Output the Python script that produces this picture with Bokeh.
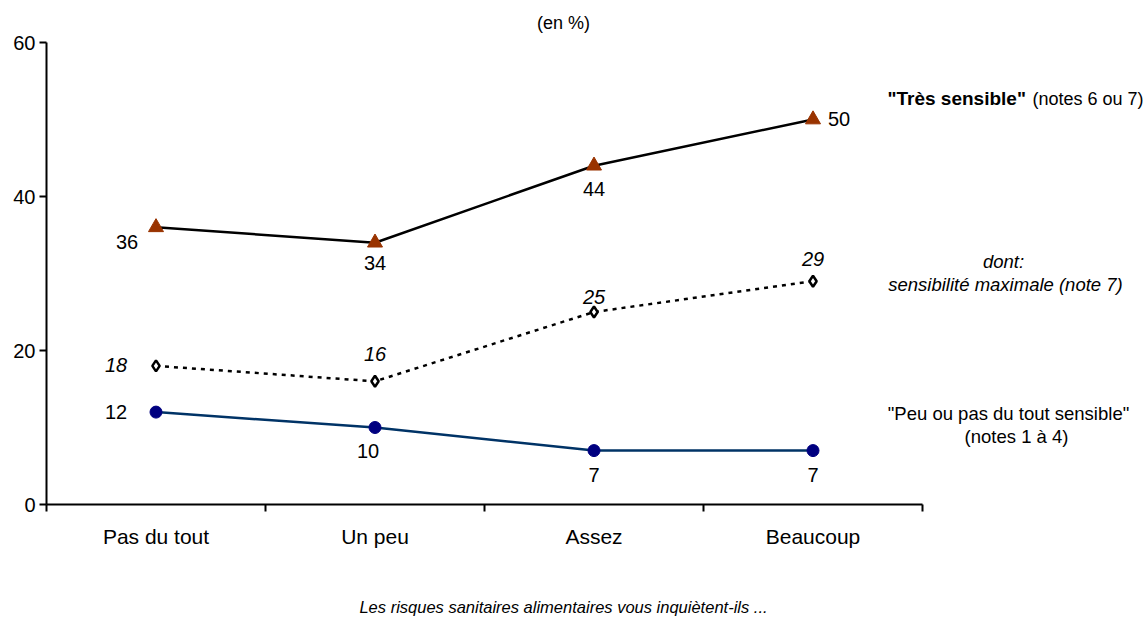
from bokeh.plotting import figure
from bokeh.layouts import column
from bokeh.models import FixedTicker, Label, ColumnDataSource
from bokeh.core.properties import value
from bokeh.embed import file_html
from bokeh.resources import INLINE

# Survey answers (x axis) and shares in percent
categories = ["Pas du tout", "Un peu", "Assez", "Beaucoup"]
tres_sensible = [36, 34, 44, 50]        # notes 6 ou 7
sensibilite_max = [18, 16, 25, 29]      # note 7
peu_sensible = [12, 10, 7, 7]           # notes 1 à 4
y_ticks = [0, 20, 40, 60]
Y_MAX = 60

FONT = "Liberation Sans"
xs = [i + 0.5 for i in range(len(categories))]
n = len(categories)

# page layout in pixels: the plotting area spans the whole canvas to the right
# and top, so that the side notes can sit inside it; the axes keep to the data
W, H = 1144, 590          # main chart; a 27 px strip below holds the question
FOOT = 27
LEFT, BOTTOM = 46, 86
AXIS_RIGHT, AXIS_TOP = 922, 42
x_end = n * (W - LEFT) / (AXIS_RIGHT - LEFT)
y_end = Y_MAX * (H - BOTTOM) / (H - BOTTOM - AXIS_TOP)

p = figure(width=W, height=H, output_backend="svg", toolbar_location=None,
           x_range=(0, x_end), y_range=(0, y_end),
           min_border_left=LEFT, min_border_right=0,
           min_border_top=0, min_border_bottom=BOTTOM)
p.title.visible = False
p.outline_line_color = None
p.xgrid.visible = False
p.ygrid.visible = False
p.background_fill_color = "white"
p.border_fill_color = "white"

# x axis: labels at category centres, tick marks at category boundaries
p.xaxis.bounds = (0, n)
p.xaxis.ticker = FixedTicker(ticks=xs, minor_ticks=list(range(n + 1)))
p.xaxis.major_label_overrides = {x: c for x, c in zip(xs, categories)}
p.xaxis.major_tick_out = 0
p.xaxis.major_tick_in = 0
p.xaxis.minor_tick_out = 7
p.xaxis.minor_tick_in = 0
p.xaxis.minor_tick_line_width = 2
p.xaxis.axis_line_width = 2
p.xaxis.major_label_text_font = FONT
p.xaxis.major_label_text_font_size = "21px"
p.xaxis.major_label_text_color = "black"
p.xaxis.major_label_standoff = 13

p.yaxis.bounds = (0, Y_MAX)
p.yaxis.ticker = FixedTicker(ticks=y_ticks)
p.yaxis.minor_tick_line_color = None
p.yaxis.major_tick_out = 7
p.yaxis.major_tick_in = 0
p.yaxis.major_tick_line_width = 2
p.yaxis.axis_line_width = 2
p.yaxis.major_label_text_font = FONT
p.yaxis.major_label_text_font_size = "20px"
p.yaxis.major_label_text_color = "black"
p.yaxis.major_label_standoff = 4

# "Très sensible"
p.line(xs, tres_sensible, line_color="black", line_width=2.5)
p.scatter(xs, tres_sensible, marker="triangle", size=15,
          fill_color="#993300", line_color="#993300")

# dont: sensibilité maximale
p.line(xs, sensibilite_max, line_color="black", line_width=2.5, line_dash="4 5")
p.scatter(xs, sensibilite_max, marker="diamond", size=11,
          fill_color="white", line_color="black", line_width=2.5)

# "Peu ou pas du tout sensible"
p.line(xs, peu_sensible, line_color="#003366", line_width=2.5)
p.scatter(xs, peu_sensible, marker="circle", size=12,
          fill_color="#000080", line_color="#000080")


def value_labels(vals, dx, dy, style="normal"):
    src = ColumnDataSource(dict(x=xs, y=vals, t=[str(v) for v in vals],
                                dx=dx, dy=dy))
    p.text(x="x", y="y", text="t", x_offset="dx", y_offset="dy", source=src,
           text_align="center", text_baseline="middle",
           text_font=value(FONT), text_font_size="20px",
           text_font_style=style, text_color="black")


value_labels(tres_sensible, [-29, 0, 0, 26], [15, 20, 23, -1])
value_labels(sensibilite_max, [-40, 0, 0, 0], [-1, -27, -15, -22], "italic")
value_labels(peu_sensible, [-40, -7, 0, 0], [0, 23, 24, 24])


def note(fig, text, x, y, align="center", style="normal", size="18.5px"):
    # x, y are pixels from the top-left corner of the figure's canvas
    fig.add_layout(Label(x=x, y=y, x_units="canvas", y_units="canvas",
                         text=text, text_align=align, text_baseline="middle",
                         text_font=FONT, text_font_size=size,
                         text_font_style=style, text_color="black"))


note(p, "(en %)", 563, 22, size="18px")

note(p, '"Très sensible"', 887, 98, align="left", style="bold", size="19px")
note(p, "(notes 6 ou 7)", 1032, 98, align="left", size="18px")
note(p, "dont:", 1003, 261, style="italic")
note(p, "sensibilité maximale (note 7)", 1005, 284, style="italic")
note(p, '"Peu ou pas du tout sensible"', 1008, 413)
note(p, "(notes 1 à 4)", 1016, 436)

# strip under the chart with the question wording
foot = figure(width=W, height=FOOT, output_backend="svg", toolbar_location=None,
              x_range=(0, W), y_range=(0, FOOT), min_border=0,
              x_axis_location=None, y_axis_location=None)
foot.title.visible = False
foot.outline_line_color = None
foot.xgrid.visible = False
foot.ygrid.visible = False
note(foot, "Les risques sanitaires alimentaires vous inquiètent-ils ...", 563, 16,
     style="italic", size="16.5px")

layout = column(p, foot, spacing=0)
open("out.html", "w").write(file_html(layout, INLINE))
